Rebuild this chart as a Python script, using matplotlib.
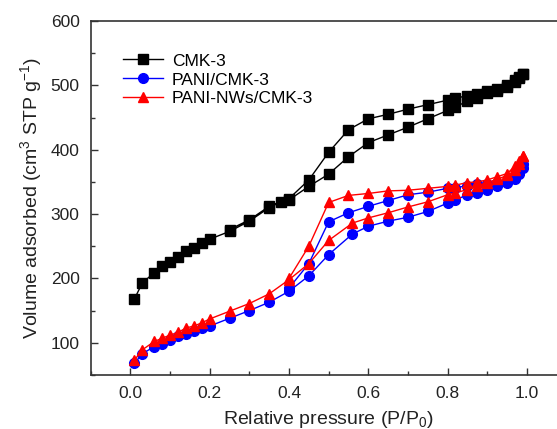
import matplotlib
matplotlib.use("Agg")
import numpy as np
import matplotlib.pyplot as plt
from matplotlib.ticker import MultipleLocator

plt.rcParams["font.family"] = ["Liberation Sans", "DejaVu Sans"]
plt.rcParams["mathtext.default"] = "regular"

# ── N2 isotherms: adsorption (P/P0 up) and desorption (P/P0 down) ──
cmk_p_ads = [0.01, 0.03, 0.06, 0.08, 0.10, 0.12, 0.14, 0.16, 0.18, 0.20, 0.25, 0.30, 0.35,
             0.38, 0.40, 0.45, 0.50, 0.55, 0.60, 0.65, 0.70, 0.75, 0.80, 0.82, 0.85, 0.875,
             0.90, 0.925, 0.95, 0.97, 0.98, 0.99]
cmk_v_ads = [168, 193, 209, 219, 226, 234, 242, 247, 255, 261, 273, 289, 310,
             319, 322, 343, 362, 389, 411, 423, 435, 448, 461, 467, 475, 481,
             488, 492, 498, 506, 511, 517]
cmk_p_des = [0.99, 0.98, 0.97, 0.95, 0.925, 0.90, 0.875, 0.85, 0.82, 0.80, 0.75, 0.70,
             0.65, 0.60, 0.55, 0.50, 0.45, 0.40, 0.35, 0.30, 0.25]
cmk_v_des = [517, 513, 508, 500, 495, 491, 487, 484, 480, 477, 470, 463,
             455, 448, 431, 396, 353, 324, 312, 291, 276]

pani_p_ads = [0.01, 0.03, 0.06, 0.08, 0.10, 0.12, 0.14, 0.16, 0.18, 0.20, 0.25, 0.30, 0.35,
              0.40, 0.45, 0.50, 0.56, 0.60, 0.65, 0.70, 0.75, 0.80, 0.82, 0.85, 0.875,
              0.90, 0.925, 0.95, 0.97, 0.98, 0.99]
pani_v_ads = [68, 83, 94, 98, 105, 110, 114, 118, 123, 126, 138, 150, 163,
              180, 204, 237, 269, 281, 289, 295, 304, 317, 322, 330, 333,
              338, 343, 348, 354, 362, 372]
pani_p_des = [0.99, 0.98, 0.97, 0.95, 0.925, 0.90, 0.875, 0.85, 0.82, 0.80, 0.75, 0.70,
              0.65, 0.60, 0.55, 0.50, 0.45, 0.40]
pani_v_des = [378, 366, 356, 350, 348, 347, 346, 344, 341, 340, 334, 330,
              321, 312, 302, 288, 223, 185]

nw_p_ads = pani_p_ads
nw_v_ads = [73, 89, 102, 107, 112, 116, 123, 126, 131, 137, 149, 161, 176,
            198, 223, 259, 286, 294, 302, 311, 319, 330, 333, 338, 344,
            349, 354, 360, 368, 378, 390]
nw_p_des = pani_p_des
nw_v_des = [390, 382, 374, 363, 358, 353, 350, 349, 345, 343, 340, 337,
            336, 332, 329, 318, 250, 200]

series = [
    ("CMK-3", cmk_p_ads, cmk_v_ads, cmk_p_des, cmk_v_des, "black", "s", 6.5),
    ("PANI/CMK-3", pani_p_ads, pani_v_ads, pani_p_des, pani_v_des, "blue", "o", 7),
    ("PANI-NWs/CMK-3", nw_p_ads, nw_v_ads, nw_p_des, nw_v_des, "red", "^", 7.5),
]

fig = plt.figure(figsize=(5.57, 4.29), dpi=100)
ax = fig.add_axes([0.163, 0.126, 0.854, 0.825])

for name, pa, va, pd_, vd, col, mk, ms in series:
    p = np.concatenate([pa, pd_])
    v = np.concatenate([va, vd])
    ax.plot(p, v, color=col, marker=mk, markersize=ms, linewidth=1.0, label=name)

ax.set_xlim(-0.1, 1.1)
ax.set_ylim(50, 600)
ax.xaxis.set_minor_locator(MultipleLocator(0.1))
ax.yaxis.set_minor_locator(MultipleLocator(50))
ax.set_xticks([0.0, 0.2, 0.4, 0.6, 0.8, 1.0])
ax.set_xticklabels(["0.0", "0.2", "0.4", "0.6", "0.8", "1.0"])
ax.set_yticks([100, 200, 300, 400, 500, 600])
ax.tick_params(which="major", direction="in", length=5, width=1, labelsize=12.5,
               top=False, right=False, pad=8, colors="#333333", labelcolor="#222222")
ax.tick_params(which="minor", direction="in", length=3, width=1, top=False, right=False,
               colors="#333333")
for s in ax.spines.values():
    s.set_linewidth(1.2)
    s.set_color("#333333")

ax.set_xlabel("Relative pressure (P/P$_0$)", fontsize=14, labelpad=6, color="#222222")
ax.set_ylabel("Volume adsorbed (cm$^3$ STP g$^{-1}$)", fontsize=14, labelpad=5,
              color="#222222")

ax.legend(loc="upper left", bbox_to_anchor=(0.045, 0.938), frameon=False, fontsize=12.5,
          handlelength=2.3, labelspacing=0.22, handletextpad=0.55, borderaxespad=0.2)

fig.savefig("out.png", dpi=100)
